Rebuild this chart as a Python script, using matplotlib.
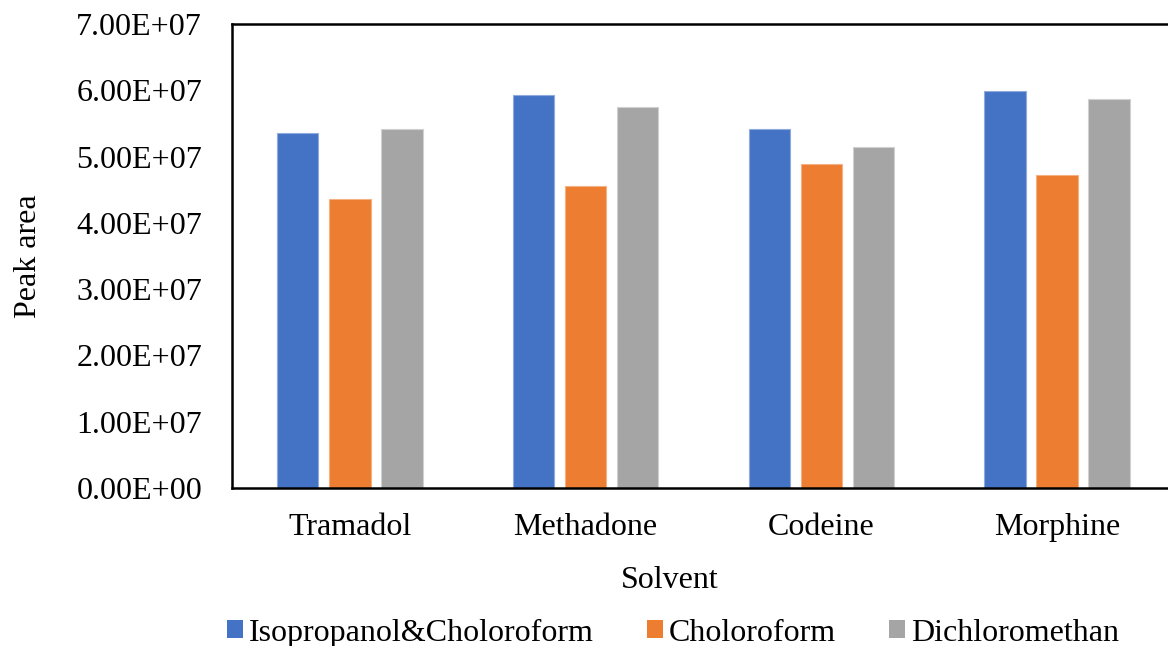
import matplotlib.pyplot as plt
from matplotlib.patches import Patch
import numpy as np

drugs = ['Tramadol', 'Methadone', 'Codeine', 'Morphine']
series = ['Isopropanol&Choloroform', 'Choloroform', 'Dichloromethan']
iso_chl = [5.35e7, 5.93e7, 5.41e7, 5.99e7]
chl = [4.36e7, 4.55e7, 4.89e7, 4.72e7]
dcm = [5.42e7, 5.75e7, 5.14e7, 5.87e7]
yticks = np.arange(0, 7.01e7, 1e7)

colors = ['#4472C4', '#ED7D31', '#A5A5A5']
edges = ['#8FAADC', '#F4B183', '#D0D0D0']

plt.rcParams['font.family'] = ['Liberation Serif', 'DejaVu Serif']
fs = 23

fig = plt.figure(figsize=(11.68, 6.46), dpi=100)
ax = fig.add_axes([0.1986, 0.2446, 0.8074, 0.7183])

x = np.arange(len(drugs))
w = 0.176
step = 0.221
for i, (vals, c, e) in enumerate(zip([iso_chl, chl, dcm], colors, edges)):
    ax.bar(x + (i - 1) * step, vals, width=w, color=c, edgecolor=e, linewidth=0.8)

ax.set_xlim(-0.5, 3.5)
ax.set_ylim(0, 7e7)
ax.set_yticks(yticks)
ax.set_yticklabels(['{:.2E}'.format(v) for v in yticks], fontsize=fs)
ax.set_xticks(x)
ax.set_xticklabels(drugs, fontsize=fs)
ax.tick_params(axis='y', length=0, pad=21.5)
ax.tick_params(axis='x', length=0, pad=18)

for s in ['left', 'top', 'bottom']:
    ax.spines[s].set_linewidth(1.8)
    ax.spines[s].set_color('black')
ax.spines['right'].set_visible(False)

ax.set_xlabel('Solvent', fontsize=fs)
ax.set_ylabel('Peak area', fontsize=fs)
ax.xaxis.set_label_coords((670 - 232) / 943, -(566 - 488) / 464)
ax.yaxis.set_label_coords((43 - 232) / 943, 0.5)

handles = [Patch(facecolor=c, edgecolor='none') for c in colors]
fig.legend(handles, series, loc='center', bbox_to_anchor=(673 / 1168, 1 - 633 / 646),
           ncol=3, frameon=False, fontsize=fs, handlelength=0.5, handleheight=0.5,
           handletextpad=0.2, columnspacing=1.65, borderpad=0, borderaxespad=0)

fig.savefig('out.png', dpi=100)
